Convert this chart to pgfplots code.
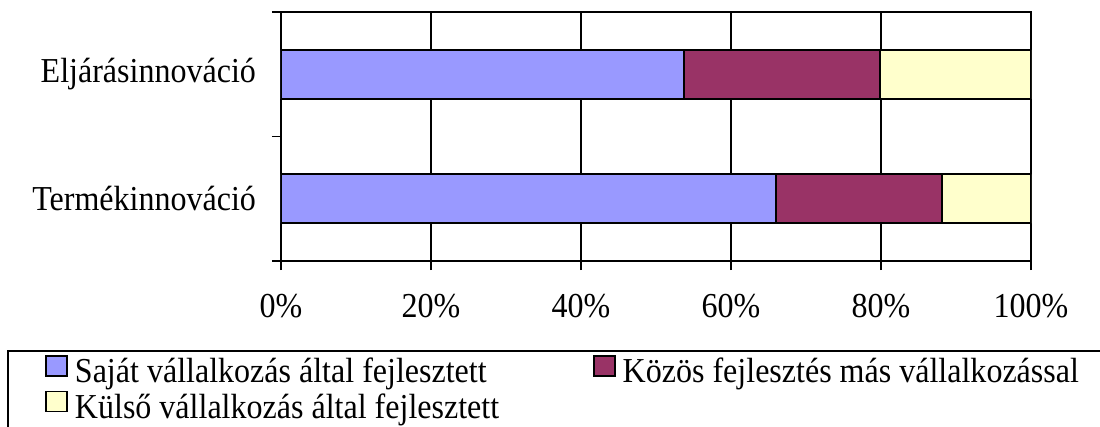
\documentclass[border=0pt]{standalone}
\usepackage{pgfplots}
\pgfplotsset{compat=1.18}
\usepackage{fontspec}
\setmainfont[FakeStretch=0.915]{Liberation Serif}
\definecolor{cA}{HTML}{9999FF}
\definecolor{cB}{HTML}{993366}
\definecolor{cC}{HTML}{FFFFCC}
\begin{document}
\fontsize{17.5}{20}\selectfont
\begin{tikzpicture}
\begin{axis}[
 at={(140.5pt,-130.5pt)}, anchor=south west,
 scale only axis, width=375pt, height=124.5pt,
 xbar stacked, bar width=24.5pt,
 xmin=0, xmax=100, ymin=0.5, ymax=2.5,
 axis line style={line width=0.8pt},
 xtick={0,20,40,60,80,100},
 xticklabels={0\%,20\%,40\%,60\%,80\%,100\%},
 xtick pos=lower, ytick pos=left,
 tick align=outside,
 major tick length=4.5pt,
 tick style={black,line width=0.8pt},
 xmajorgrids, grid style={black,line width=0.8pt},
 ytick={0.5,1.5,2.5}, yticklabels={},
 extra y ticks={1,2},
 extra y tick labels={Termékinnováció,Eljárásinnováció},
 extra y tick style={tick style={draw=none}, yticklabel style={xshift=-2pt}},
 xticklabel style={yshift=-6pt},
 /pgf/number format/assume math mode=true,
 legend columns=2,
 legend cell align=left,
 legend style={draw=none, fill=none, at={(axis description cs:-0.3147,-0.3775)}, anchor=north west, inner sep=0pt,
   nodes={inner sep=0pt, text height=11pt, text depth=3.5pt},
   /tikz/every even column/.append style={column sep=47pt},
   /tikz/every odd column/.append style={column sep=3.5pt}, row sep=0.5pt},
]
\addplot[fill=cA, draw=black, line width=0.8pt,
  legend image code/.code={\draw[fill=cA,draw=black,line width=0.8pt] (0pt,-0.5pt) rectangle (10.5pt,9.5pt);}]
  coordinates {(66.0,1) (53.7,2)};
\addplot[fill=cB, draw=black, line width=0.8pt,
  legend image code/.code={\draw[fill=cB,draw=black,line width=0.8pt] (0pt,-0.5pt) rectangle (10.5pt,9.5pt);}]
  coordinates {(22.1,1) (26.2,2)};
\addplot[fill=cC, draw=black, line width=0.8pt,
  legend image code/.code={\draw[fill=cC,draw=black,line width=0.8pt] (0pt,-0.5pt) rectangle (10.5pt,9.5pt);}]
  coordinates {(11.9,1) (20.1,2)};
\legend{Saját vállalkozás által fejlesztett, Közös fejlesztés más vállalkozással, Külső vállalkozás által fejlesztett}
\end{axis}
\draw[line width=1pt] (4pt,-175.5pt) rectangle (600pt,-300pt);
\pgfresetboundingbox
\path[use as bounding box] (0,0) rectangle (550pt,-213.5pt);
\end{tikzpicture}
\end{document}
